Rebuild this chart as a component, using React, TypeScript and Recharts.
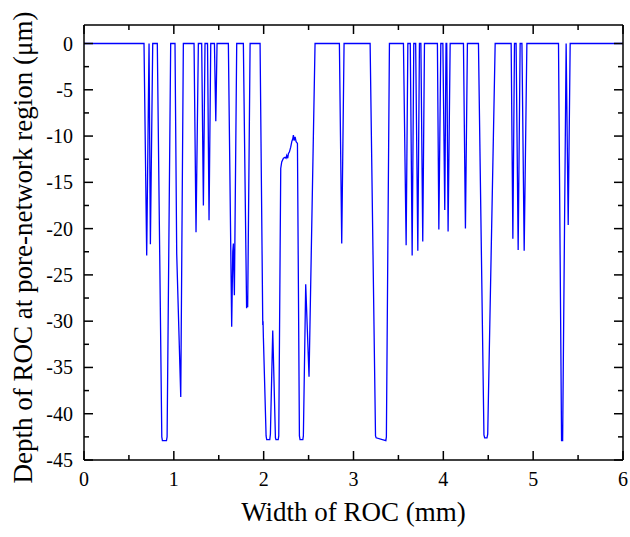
import React from "react";
import { LineChart, Line, XAxis, YAxis } from "recharts";

// Width of ROC (mm)
const widthMm: number[] = [
  0, 0.668, 0.698, 0.724, 0.739, 0.765, 0.816, 0.866, 0.873, 0.918, 0.925, 0.965,
  1.013, 1.032, 1.077, 1.106, 1.225, 1.247, 1.273, 1.31, 1.329, 1.347, 1.375, 1.392,
  1.411, 1.452, 1.467, 1.481, 1.607, 1.644, 1.656, 1.663, 1.668, 1.674, 1.7, 1.774,
  1.81, 1.816, 1.822, 1.849, 1.96, 1.99, 1.993, 1.997, 2.027, 2.034, 2.068, 2.075,
  2.101, 2.131, 2.137, 2.162, 2.168, 2.19, 2.201, 2.22, 2.238, 2.249, 2.257, 2.268,
  2.275, 2.287, 2.301, 2.313, 2.324, 2.331, 2.339, 2.35, 2.361, 2.376, 2.398, 2.405,
  2.436, 2.442, 2.468, 2.505, 2.572, 2.843, 2.869, 2.895, 3.185, 3.245, 3.252, 3.36,
  3.366, 3.4, 3.556, 3.586, 3.605, 3.632, 3.653, 3.671, 3.692, 3.716, 3.734, 3.75,
  3.771, 3.79, 3.934, 3.95, 3.972, 3.995, 4.016, 4.03, 4.038, 4.053, 4.076, 4.224,
  4.246, 4.268, 4.391, 4.452, 4.46, 4.486, 4.494, 4.577, 4.755, 4.774, 4.792, 4.81,
  4.833, 4.855, 4.875, 4.9, 4.93, 5.282, 5.316, 5.328, 5.367, 5.39, 5.412, 6,
];

// Depth of ROC at pore-network region (µm)
const depthUm: number[] = [
  0, 0, -22.9, 0, -21.7, 0, 0, -42.5, -42.9, -42.9, -42.5, 0,
  0, -22.7, -38.2, 0, 0, -20.4, 0, 0, -17.5, 0, 0, -19.1,
  0, 0, -8.4, 0, 0, -30.6, -22.5, -21.6, -24.5, -27.2, 0, 0,
  -28.6, -27.8, -28.5, 0, 0, -30.4, -30.0, -31.8, -42.4, -42.8, -42.8, -42.2,
  -31.0, -42.6, -42.8, -42.8, -42.4, -13.5, -12.8, -12.4, -12.3, -12.4, -12.1, -12.4,
  -11.9, -11.7, -11.2, -10.6, -10.3, -9.9, -10.5, -10.1, -10.6, -10.8, -42.4, -42.8,
  -42.8, -42.4, -26.0, -36.0, 0, 0, -21.6, 0, 0, -42.4, -42.6, -42.9,
  -42.5, 0, 0, -21.8, 0, 0, -22.9, 0, 0, -22.4, 0, 0,
  -21.4, 0, 0, -20.1, 0, 0, -18.0, 0, 0, -20.3, 0, 0,
  -20.0, 0, 0, -42.3, -42.6, -42.6, -42.2, 0, 0, -21.1, 0, 0,
  -22.3, 0, 0, -22.4, 0, 0, -42.9, -42.9, 0, -19.6, 0, 0,
];

const xTicks: number[] = [0, 0.5, 1, 1.5, 2, 2.5, 3, 3.5, 4, 4.5, 5, 5.5, 6];
const yTicks: number[] = [
  -45, -42.5, -40, -37.5, -35, -32.5, -30, -27.5, -25, -22.5, -20, -17.5,
  -15, -12.5, -10, -7.5, -5, -2.5, 0,
];

const data = widthMm.map((x, i) => ({ x, y: depthUm[i] }));

const FONT = '"Liberation Serif", "Times New Roman", Times, serif';
const AXIS = { stroke: "#000", strokeWidth: 1.5 };
const TXT = { fontFamily: FONT };

const isMajorX = (v: number) => Number.isInteger(v);
const isMajorY = (v: number) => Math.abs(v % 5) < 1e-9;

const BottomTick = (props: any) => {
  const { x, y, payload } = props;
  const v = payload.value;
  const major = isMajorX(v);
  return (
    <g>
      <line x1={x} x2={x} y1={y} y2={y - (major ? 9 : 5)} stroke="#000" strokeWidth={1.5} />
      {major && (
        <text x={x} y={y + 26} textAnchor="middle" fontSize={20} fontFamily={FONT} style={TXT} fill="#000">
          {String(v)}
        </text>
      )}
    </g>
  );
};

const TopTick = (props: any) => {
  const { x, y, payload } = props;
  const major = isMajorX(payload.value);
  return <line x1={x} x2={x} y1={y} y2={y + (major ? 9 : 5)} stroke="#000" strokeWidth={1.5} />;
};

const LeftTick = (props: any) => {
  const { x, y, payload } = props;
  const v = payload.value;
  const major = isMajorY(v);
  return (
    <g>
      <line x1={x} x2={x + (major ? 9 : 5)} y1={y} y2={y} stroke="#000" strokeWidth={1.5} />
      {major && (
        <text x={x - 11} y={y + 7} textAnchor="end" fontSize={20} fontFamily={FONT} style={TXT} fill="#000">
          {String(v)}
        </text>
      )}
    </g>
  );
};

const RightTick = (props: any) => {
  const { x, y, payload } = props;
  const major = isMajorY(payload.value);
  return <line x1={x} x2={x - (major ? 9 : 5)} y1={y} y2={y} stroke="#000" strokeWidth={1.5} />;
};

const XTitle = (props: any) => {
  const vb = props.viewBox || {};
  return (
    <text
      x={vb.x + vb.width / 2}
      y={vb.y + 61}
      textAnchor="middle"
      fontSize={27}
      fontFamily={FONT}
      style={TXT}
      fill="#000"
    >
      Width of ROC (mm)
    </text>
  );
};

const YTitle = (props: any) => {
  const vb = props.viewBox || {};
  const cx = vb.x + 24;
  const cy = vb.y + vb.height / 2 + 5;
  return (
    <text
      x={cx}
      y={cy}
      transform={`rotate(-90, ${cx}, ${cy})`}
      textAnchor="middle"
      fontSize={27}
      fontFamily={FONT}
      style={TXT}
      fill="#000"
    >
      Depth of ROC at pore-network region (μm)
    </text>
  );
};

export default function App() {
  return (
    <div
      style={{
        width: 630,
        height: 537,
        paddingLeft: 8,
        paddingTop: 8,
        boxSizing: "border-box",
        fontFamily: FONT,
        overflow: "visible",
      }}
    >
      <style>{`html, body { margin: 0; padding: 0; overflow: hidden; }`}</style>
      <LineChart
        width={622}
        height={521}
        data={data}
        margin={{ top: 16, right: 6, bottom: 0, left: 0 }}
        style={{ overflow: "visible" }}
      >
        <XAxis
          xAxisId="bottom"
          dataKey="x"
          type="number"
          domain={[0, 6]}
          ticks={xTicks}
          interval={0}
          orientation="bottom"
          height={69}
          tickLine={false}
          tickSize={0}
          tickMargin={0}
          axisLine={AXIS}
          tick={<BottomTick />}
          allowDataOverflow
          label={<XTitle />}
        />
        <XAxis
          xAxisId="top"
          dataKey="x"
          type="number"
          domain={[0, 6]}
          ticks={xTicks}
          interval={0}
          orientation="top"
          height={1}
          tickLine={false}
          tickSize={0}
          tickMargin={0}
          axisLine={AXIS}
          tick={<TopTick />}
          allowDataOverflow
        />
        <YAxis
          yAxisId="left"
          type="number"
          domain={[-45, 2]}
          ticks={yTicks}
          interval={0}
          orientation="left"
          width={76}
          tickLine={false}
          tickSize={0}
          tickMargin={0}
          axisLine={AXIS}
          tick={<LeftTick />}
          allowDataOverflow
          label={<YTitle />}
        />
        <YAxis
          yAxisId="right"
          type="number"
          domain={[-45, 2]}
          ticks={yTicks}
          interval={0}
          orientation="right"
          width={1}
          tickLine={false}
          tickSize={0}
          tickMargin={0}
          axisLine={AXIS}
          tick={<RightTick />}
          allowDataOverflow
        />
        <Line
          xAxisId="bottom"
          yAxisId="left"
          type="linear"
          dataKey="y"
          stroke="#0000FF"
          strokeWidth={1.3}
          dot={false}
          activeDot={false}
          isAnimationActive={false}
        />
      </LineChart>
    </div>
  );
}
